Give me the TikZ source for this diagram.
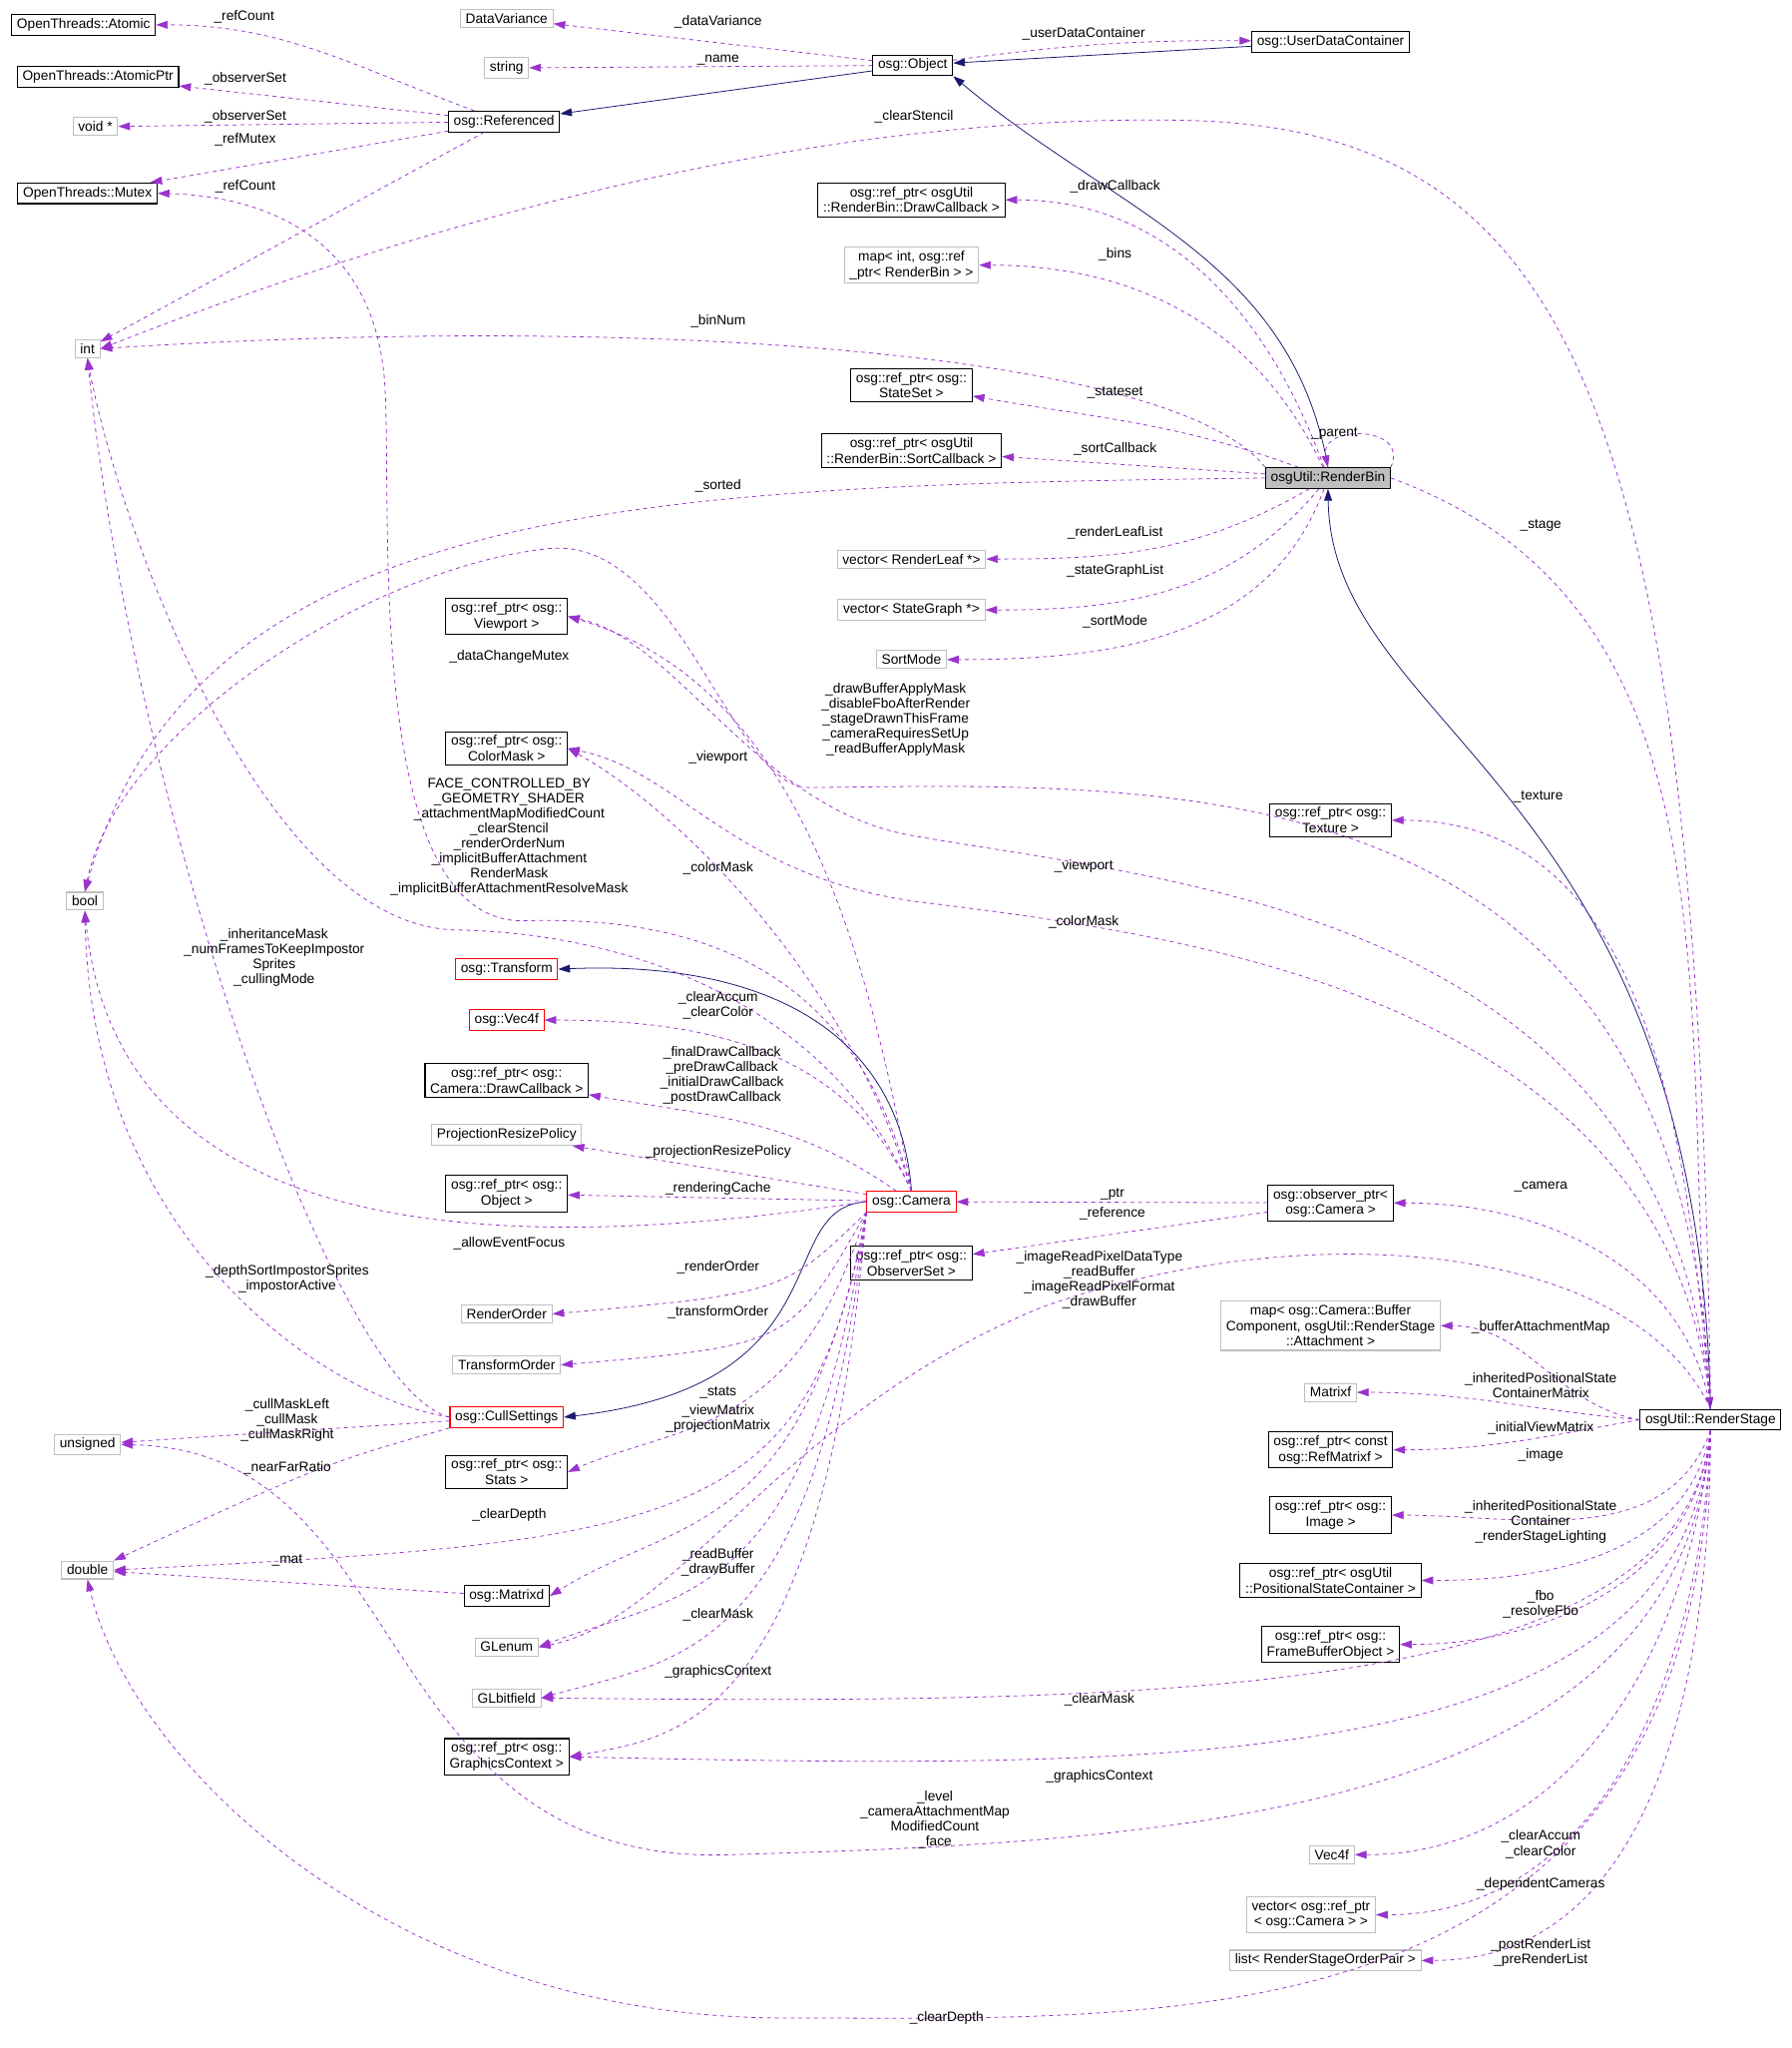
\documentclass[tikz,border=0pt]{standalone}
\usepackage{fontspec}
\setmainfont{Liberation Sans}
\usepackage{xcolor}
\definecolor{DepViolet}{HTML}{9A32CD}
\definecolor{InhBlue}{HTML}{191970}
\definecolor{ExtGray}{HTML}{BFBFBF}
\usetikzlibrary{arrows.meta}
\tikzset{>={Triangle[length=9pt,width=6pt]}}
\newcommand\tlt{\textless}
\newcommand\tgt{\textgreater}

\begin{document}
\begin{tikzpicture}[x=1pt,y=-1pt,
	cls/.style={draw=black,fill=white,align=center,inner xsep=4pt,inner ysep=3pt,font=\fontsize{10.5}{12}\selectfont,thick},
	ext/.style={cls,draw=ExtGray},
	bad/.style={cls,draw=red},
	dep/.style={->,dashed,DepViolet,semithick},
	inh/.style={->,InhBlue,semithick},
	lbl/.style={align=center,inner sep=0pt,font=\fontsize{10.5}{11.5}\selectfont}]
	
	\useasboundingbox (0,0) rectangle (1372,1568);
	
	%% LEFT COLUMN
	\node[cls] (atomic) at (64,19) {OpenThreads::Atomic};
	\node[cls] (atomicptr) at (75,59) {OpenThreads::AtomicPtr};
	\node[ext] (voidp) at (73,97) {void *};
	\node[cls] (mutex) at (67,148) {OpenThreads::Mutex};
	\node[ext] (intn) at (67,267) {int};
	\node[ext] (booln) at (65,690) {bool};
	\node[ext] (unsignedn) at (67,1106) {unsigned};
	\node[ext] (doublen) at (67,1202) {double};
	
	%% MIDDLE COLUMN
	\node[ext] (datavar) at (388,14) {DataVariance};
	\node[ext] (string) at (388,52) {string};
	\node[cls] (referenced) at (386,93) {osg::Referenced};
	\node[cls] (viewport) at (388,472) {osg::ref\_ptr\tlt{} osg::\\Viewport \tgt};
	\node[cls] (colormask) at (388,573) {osg::ref\_ptr\tlt{} osg::\\ColorMask \tgt};
	\node[bad] (transform) at (388,742) {osg::Transform};
	\node[bad] (vecosg) at (388,781) {osg::Vec4f};
	\node[cls] (camdrawcb) at (388,827) {osg::ref\_ptr\tlt{} osg::\\Camera::DrawCallback \tgt};
	\node[ext] (projpol) at (388,869) {ProjectionResizePolicy};
	\node[cls] (objptr) at (388,914) {osg::ref\_ptr\tlt{} osg::\\Object \tgt};
	\node[ext] (renderorder) at (388,1006) {RenderOrder};
	\node[ext] (transformorder) at (388,1045) {TransformOrder};
	\node[bad] (cullset) at (388,1085) {osg::CullSettings};
	\node[cls] (stats) at (388,1127) {osg::ref\_ptr\tlt{} osg::\\Stats \tgt};
	\node[cls] (matrixd) at (388,1222) {osg::Matrixd};
	\node[ext] (glenum) at (388,1261) {GLenum};
	\node[ext] (glbitfield) at (388,1300) {GLbitfield};
	\node[cls] (gcontext) at (388,1345) {osg::ref\_ptr\tlt{} osg::\\GraphicsContext \tgt};
	
	%% RENDERBIN COLUMN
	\node[cls] (object) at (699,50) {osg::Object};
	\node[cls] (drawcb) at (698,153) {osg::ref\_ptr\tlt{} osgUtil\\::RenderBin::DrawCallback \tgt};
	\node[ext] (binsmap) at (698,203) {map\tlt{} int, osg::ref\\\_ptr\tlt{} RenderBin \tgt{} \tgt};
	\node[cls] (stateset) at (698,295) {osg::ref\_ptr\tlt{} osg::\\StateSet \tgt};
	\node[cls] (sortcb) at (698,345) {osg::ref\_ptr\tlt{} osgUtil\\::RenderBin::SortCallback \tgt};
	\node[ext] (leaflist) at (698,428) {vector\tlt{} RenderLeaf *\tgt};
	\node[ext] (graphlist) at (698,467) {vector\tlt{} StateGraph *\tgt};
	\node[ext] (sortmode) at (698,505) {SortMode};
	\node[bad] (camera) at (698,920) {osg::Camera};
	\node[cls] (obsset) at (698,967) {osg::ref\_ptr\tlt{} osg::\\ObserverSet \tgt};
	
	%% RENDERSTAGE COLUMN
	\node[cls] (udc) at (1019,32) {osg::UserDataContainer};
	\node[cls,fill=ExtGray] (renderbin) at (1017,366) {osgUtil::RenderBin};
	\node[cls] (texture) at (1019,628) {osg::ref\_ptr\tlt{} osg::\\Texture \tgt};
	\node[cls] (obsptr) at (1019,921) {osg::observer\_ptr\tlt\\osg::Camera \tgt};
	\node[ext] (bufmap) at (1019,1015) {map\tlt{} osg::Camera::Buffer\\Component, osgUtil::RenderStage\\::Attachment \tgt};
	\node[ext] (matrixf) at (1019,1066) {Matrixf};
	\node[cls] (refmatrixf) at (1019,1110) {osg::ref\_ptr\tlt{} const\\osg::RefMatrixf \tgt};
	\node[cls] (image) at (1019,1160) {osg::ref\_ptr\tlt{} osg::\\Image \tgt};
	\node[cls] (posstate) at (1019,1210) {osg::ref\_ptr\tlt{} osgUtil\\::PositionalStateContainer \tgt};
	\node[cls] (fbo) at (1019,1259) {osg::ref\_ptr\tlt{} osg::\\FrameBufferObject \tgt};
	\node[ext] (vecf) at (1020,1420) {Vec4f};
	\node[ext] (depcams) at (1004,1466) {vector\tlt{} osg::ref\_ptr\\\tlt{} osg::Camera \tgt{} \tgt};
	\node[ext] (orderlist) at (1015,1501) {list\tlt{} RenderStageOrderPair \tgt};
	\node[cls] (renderstage) at (1310,1087) {osgUtil::RenderStage};
	
	%% REFERENCED AND OBJECT
	\draw[dep] (referenced) to[out=160,in=0] (atomic);
	\draw[dep] (referenced) -- (atomicptr);
	\draw[dep] (referenced) -- (voidp);
	\draw[dep] (referenced) -- (mutex);
	\draw[dep] (referenced) -- (intn);
	\draw[dep] (object) -- (datavar);
	\draw[dep] (object) -- (string);
	\draw[dep] (object) to[bend left=4] (udc);
	\draw[inh] (udc) -- (object);
	\draw[inh] (object) -- (referenced);
	\node[lbl] (lRefCountA) at (187,13) {\_refCount};
	\node[lbl] (lObsA) at (188,60) {\_observerSet};
	\node[lbl] (lObsB) at (188,89) {\_observerSet};
	\node[lbl] (lRefMutex) at (188,107) {\_refMutex};
	\node[lbl] (lRefCountB) at (188,143) {\_refCount};
	\node[lbl] (lDataVar) at (550,17) {\_dataVariance};
	\node[lbl] (lName) at (550,46) {\_name};
	\node[lbl] (lUdc) at (830,26) {\_userDataContainer};
	
	%% RENDERBIN
	\draw[inh] (renderbin.north) to[out=100,in=-40] (object.south east);
	\draw[dep] (renderbin) to[out=110,in=0] (drawcb);
	\draw[dep] (renderbin) to[out=115,in=0] (binsmap);
	\draw[dep] (renderbin.north west) .. controls (900,270) and (500,240) .. (intn.east);
	\draw[dep] (renderbin) to[out=160,in=-10] (stateset);
	\draw[dep] (renderbin) -- (sortcb);
	\draw[dep] (renderbin.north east) .. controls (1080,325) and (1010,325) .. (renderbin.north);
	\draw[dep] (renderbin.west) .. controls (500,372) and (150,380) .. (booln.north);
	\draw[dep] (renderbin) to[out=-150,in=0] (leaflist);
	\draw[dep] (renderbin) to[out=-130,in=0] (graphlist);
	\draw[dep] (renderbin) to[out=-110,in=0] (sortmode);
	\draw[dep] (renderbin.east) to[out=-20,in=95] (renderstage.north);
	\draw[inh] (renderstage.north) .. controls (1300,600) and (1020,560) .. (renderbin.south);
	\node[lbl] (lDrawCb) at (854,143) {\_drawCallback};
	\node[lbl] (lBins) at (854,195) {\_bins};
	\node[lbl] (lBinNum) at (550,246) {\_binNum};
	\node[lbl] (lStateSet) at (854,301) {\_stateset};
	\node[lbl] (lSortCb) at (854,344) {\_sortCallback};
	\node[lbl] (lParent) at (1022,332) {\_parent};
	\node[lbl] (lSorted) at (550,372) {\_sorted};
	\node[lbl] (lLeaf) at (854,408) {\_renderLeafList};
	\node[lbl] (lGraph) at (854,437) {\_stateGraphList};
	\node[lbl] (lSortMode) at (854,476) {\_sortMode};
	\node[lbl] (lStage) at (1180,402) {\_stage};
	
	%% RENDERSTAGE
	\draw[dep] (renderstage.north) .. controls (1300,300) and (1200,95) .. (900,92) .. controls (600,88) and (300,180) .. (intn.east);
	\draw[dep] (renderstage.north) .. controls (1290,580) and (900,600) .. (620,603) .. controls (560,604) and (520,410) .. (420,420) .. controls (280,435) and (90,560) .. (booln.north);
	\draw[dep] (renderstage.north) to[out=95,in=0] (texture);
	\draw[dep] (renderstage.north) .. controls (1280,700) and (900,675) .. (700,640) .. controls (580,620) and (520,490) .. (viewport.east);
	\draw[dep] (renderstage.north) .. controls (1280,760) and (900,715) .. (700,690) .. controls (560,670) and (520,590) .. (colormask.east);
	\draw[dep] (renderstage.north) to[out=100,in=0] (obsptr);
	\draw[dep] (renderstage.north) .. controls (1250,950) and (1000,930) .. (800,1000) .. controls (600,1080) and (520,1240) .. (glenum.east);
	\draw[dep] (renderstage.west) to[out=170,in=0] (bufmap);
	\draw[dep] (renderstage.west) to[out=175,in=0] (matrixf);
	\draw[dep] (renderstage.west) to[out=-170,in=0] (refmatrixf);
	\draw[dep] (renderstage.south) to[out=-110,in=0] (image);
	\draw[dep] (renderstage.south) to[out=-100,in=0] (posstate);
	\draw[dep] (renderstage.south) to[out=-95,in=0] (fbo);
	\draw[dep] (renderstage.south) .. controls (1290,1300) and (900,1305) .. (glbitfield.east);
	\draw[dep] (renderstage.south) .. controls (1290,1360) and (900,1355) .. (gcontext.east);
	\draw[dep] (renderstage.south) .. controls (1290,1390) and (900,1410) .. (560,1420) .. controls (280,1430) and (320,1110) .. (unsignedn.east);
	\draw[dep] (renderstage.south) to[out=-95,in=0] (vecf);
	\draw[dep] (renderstage.south) to[out=-92,in=0] (depcams);
	\draw[dep] (renderstage.south) to[out=-90,in=0] (orderlist);
	\draw[dep] (renderstage.south) .. controls (1300,1570) and (900,1545) .. (600,1545) .. controls (300,1545) and (100,1350) .. (doublen.south);
	\node[lbl] (lClearStencil) at (700,89) {\_clearStencil};
	\node[lbl] (lApply) at (686,551) {\_drawBufferApplyMask\\\_disableFboAfterRender\\\_stageDrawnThisFrame\\\_cameraRequiresSetUp\\\_readBufferApplyMask};
	\node[lbl] (lTexture) at (1178,610) {\_texture};
	\node[lbl] (lViewportB) at (830,663) {\_viewport};
	\node[lbl] (lColorMaskB) at (830,706) {\_colorMask};
	\node[lbl] (lCamera) at (1180,909) {\_camera};
	\node[lbl] (lReadPix) at (842,980) {\_imageReadPixelDataType\\\_readBuffer\\\_imageReadPixelFormat\\\_drawBuffer};
	\node[lbl] (lBufMap) at (1180,1016) {\_bufferAttachmentMap};
	\node[lbl] (lPosMat) at (1180,1061) {\_inheritedPositionalState\\ContainerMatrix};
	\node[lbl] (lInitView) at (1180,1093) {\_initialViewMatrix};
	\node[lbl] (lImage) at (1180,1114) {\_image};
	\node[lbl] (lPosCont) at (1180,1165) {\_inheritedPositionalState\\Container\\\_renderStageLighting};
	\node[lbl] (lFbo) at (1180,1228) {\_fbo\\\_resolveFbo};
	\node[lbl] (lClearMaskB) at (842,1301) {\_clearMask};
	\node[lbl] (lGcB) at (842,1360) {\_graphicsContext};
	\node[lbl] (lLevel) at (716,1393) {\_level\\\_cameraAttachmentMap\\ModifiedCount\\\_face};
	\node[lbl] (lAccumB) at (1180,1412) {\_clearAccum\\\_clearColor};
	\node[lbl] (lDepCams) at (1180,1443) {\_dependentCameras};
	\node[lbl] (lOrder) at (1180,1495) {\_postRenderList\\\_preRenderList};
	\node[lbl] (lDepthB) at (725,1545) {\_clearDepth};
	
	%% CAMERA
	\draw[inh] (camera.north) .. controls (690,800) and (600,735) .. (transform.east);
	\draw[inh] (camera.west) .. controls (590,925) and (650,1060) .. (cullset.east);
	\draw[dep] (camera.north) .. controls (660,760) and (560,700) .. (400,705) .. controls (280,705) and (300,400) .. (295,300) .. controls (290,180) and (200,150) .. (mutex.east);
	\draw[dep] (camera.north) .. controls (660,700) and (600,520) .. (viewport.east);
	\draw[dep] (camera.north) .. controls (650,750) and (520,620) .. (colormask.east);
	\draw[dep] (camera.north) .. controls (640,780) and (500,715) .. (350,712) .. controls (200,710) and (90,400) .. (intn.south);
	\draw[dep] (camera.north) to[out=115,in=0] (vecosg);
	\draw[dep] (camera) to[out=145,in=-10] (camdrawcb);
	\draw[dep] (camera) -- (projpol);
	\draw[dep] (camera) -- (objptr);
	\draw[dep] (camera.west) .. controls (400,960) and (90,960) .. (booln.south);
	\draw[dep] (camera.south west) .. controls (600,990) .. (renderorder.east);
	\draw[dep] (camera.south west) .. controls (605,1030) .. (transformorder.east);
	\draw[dep] (camera.south west) .. controls (610,1100) and (520,1090) .. (stats.east);
	\draw[dep] (camera.south west) .. controls (615,1180) and (520,1160) .. (matrixd.east);
	\draw[dep] (camera.south west) .. controls (620,1170) and (520,1180) .. (doublen.east);
	\draw[dep] (camera.south west) .. controls (620,1230) and (520,1220) .. (glenum.east);
	\draw[dep] (camera.south west) .. controls (625,1270) and (520,1270) .. (glbitfield.east);
	\draw[dep] (camera.south west) .. controls (630,1320) and (520,1330) .. (gcontext.east);
	\draw[dep] (obsptr) -- (camera);
	\draw[dep] (obsptr) -- (obsset);
	\node[lbl] (lMutexChange) at (390,503) {\_dataChangeMutex};
	\node[lbl] (lViewportA) at (550,580) {\_viewport};
	\node[lbl] (lFace) at (390,641) {FACE\_CONTROLLED\_BY\\\_GEOMETRY\_SHADER\\\_attachmentMapModifiedCount\\\_clearStencil\\\_renderOrderNum\\\_implicitBufferAttachment\\RenderMask\\\_implicitBufferAttachmentResolveMask};
	\node[lbl] (lColorMaskA) at (550,665) {\_colorMask};
	\node[lbl] (lAccumA) at (550,770) {\_clearAccum\\\_clearColor};
	\node[lbl] (lCallbacks) at (553,823) {\_finalDrawCallback\\\_preDrawCallback\\\_initialDrawCallback\\\_postDrawCallback};
	\node[lbl] (lProj) at (550,882) {\_projectionResizePolicy};
	\node[lbl] (lCache) at (550,910) {\_renderingCache};
	\node[lbl] (lPtr) at (852,914) {\_ptr};
	\node[lbl] (lReference) at (852,929) {\_reference};
	\node[lbl] (lFocus) at (390,952) {\_allowEventFocus};
	\node[lbl] (lRenderOrder) at (550,970) {\_renderOrder};
	\node[lbl] (lTransformOrder) at (550,1005) {\_transformOrder};
	\node[lbl] (lStats) at (550,1066) {\_stats};
	\node[lbl] (lViewMat) at (550,1086) {\_viewMatrix\\\_projectionMatrix};
	\node[lbl] (lDepthA) at (390,1160) {\_clearDepth};
	\node[lbl] (lReadBuf) at (550,1196) {\_readBuffer\\\_drawBuffer};
	\node[lbl] (lClearMaskA) at (550,1236) {\_clearMask};
	\node[lbl] (lGcA) at (550,1280) {\_graphicsContext};
	
	%% CULLSETTINGS
	\draw[dep] (cullset.west) .. controls (250,1060) and (100,600) .. (intn.south);
	\draw[dep] (cullset.west) .. controls (250,1070) and (70,950) .. (booln.south);
	\draw[dep] (cullset) -- (unsignedn);
	\draw[dep] (cullset.south west) .. controls (250,1120) .. (doublen.north east);
	\draw[dep] (matrixd) -- (doublen);
	\node[lbl] (lInherit) at (210,733) {\_inheritanceMask\\\_numFramesToKeepImpostor\\Sprites\\\_cullingMode};
	\node[lbl] (lImpostor) at (220,979) {\_depthSortImpostorSprites\\\_impostorActive};
	\node[lbl] (lCullMask) at (220,1087) {\_cullMaskLeft\\\_cullMask\\\_cullMaskRight};
	\node[lbl] (lNearFar) at (220,1124) {\_nearFarRatio};
	\node[lbl] (lMat) at (220,1195) {\_mat};
	
\end{tikzpicture}
\end{document}
